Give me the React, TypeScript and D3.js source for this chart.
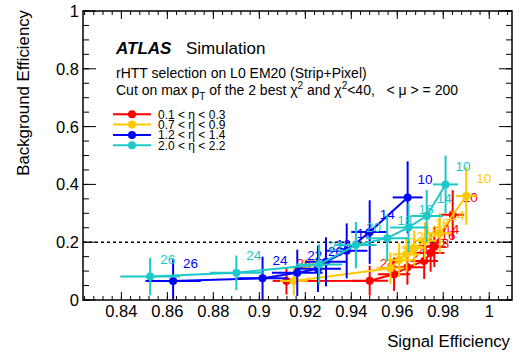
import * as d3 from "d3"

// thresholds (labels next to each point), same for every eta range
const thresholds = [26, 24, 22, 20, 18, 16, 14, 10]

const etaLabels = ["0.1 < η < 0.3", "0.7 < η < 0.9", "1.2 < η < 1.4", "2.0 < η < 2.2"]
const colors = ["#ff0000", "#ffc800", "#0000ff", "#1fc8c8"]

// 0.1 < eta < 0.3
const redSig = [0.9118, 0.948, 0.9586, 0.9644, 0.9717, 0.9745, 0.9761, 0.9841]
const redBkg = [0.066, 0.067, 0.089, 0.113, 0.135, 0.163, 0.184, 0.295]
const redSigErr = [0.006, 0.008, 0.007, 0.007, 0.006, 0.006, 0.005, 0.005]
const redBkgErr = [0.047, 0.052, 0.058, 0.06, 0.062, 0.065, 0.07, 0.085]

// 0.7 < eta < 0.9
const yelSig = [0.915, 0.957, 0.9608, 0.964, 0.9674, 0.972, 0.9785, 0.99]
const yelBkg = [0.066, 0.11, 0.138, 0.158, 0.179, 0.205, 0.231, 0.36]
const yelSigErr = [0.006, 0.006, 0.006, 0.006, 0.005, 0.005, 0.005, 0.0045]
const yelBkgErr = [0.05, 0.055, 0.058, 0.06, 0.062, 0.065, 0.07, 0.1]

// 1.2 < eta < 1.4
const bluSig = [0.8625, 0.9014, 0.9165, 0.9255, 0.929, 0.938, 0.948, 0.9645]
const bluBkg = [0.066, 0.075, 0.094, 0.108, 0.132, 0.17, 0.235, 0.355]
const bluSigErr = [0.012, 0.011, 0.011, 0.01, 0.009, 0.009, 0.008, 0.0065]
const bluBkgErr = [0.075, 0.075, 0.08, 0.08, 0.085, 0.095, 0.11, 0.125]

// 2.0 < eta < 2.2
const cyaSig = [0.8525, 0.89, 0.926, 0.942, 0.9556, 0.9649, 0.9728, 0.981]
const cyaBkg = [0.081, 0.094, 0.123, 0.19, 0.214, 0.251, 0.291, 0.4]
const cyaSigErr = [0.013, 0.0115, 0.01, 0.009, 0.009, 0.008, 0.007, 0.0055]
const cyaBkgErr = [0.065, 0.06, 0.07, 0.08, 0.08, 0.085, 0.09, 0.1]

const xTickValues = [0.84, 0.86, 0.88, 0.9, 0.92, 0.94, 0.96, 0.98, 1]
const yTickValues = [0, 0.2, 0.4, 0.6, 0.8, 1]
const cutValue = 0.2

const width = 522
const height = 354
const margin = { top: 11, right: 10, bottom: 54, left: 83 }
const font = "'Liberation Sans', Arial, Helvetica, sans-serif"

const series = [
  { sig: redSig, bkg: redBkg, ex: redSigErr, ey: redBkgErr },
  { sig: yelSig, bkg: yelBkg, ex: yelSigErr, ey: yelBkgErr },
  { sig: bluSig, bkg: bluBkg, ex: bluSigErr, ey: bluBkgErr },
  { sig: cyaSig, bkg: cyaBkg, ex: cyaSigErr, ey: cyaBkgErr },
]

export default function App() {
  const x = d3.scaleLinear().domain([0.8233, 1.0099]).range([margin.left, width - margin.right])
  const y = d3.scaleLinear().domain([0, 1]).range([height - margin.bottom, margin.top])
  const x0 = margin.left
  const x1 = width - margin.right
  const y0 = height - margin.bottom
  const y1 = margin.top

  const xMinor = d3.range(0.824, 1.0099, 0.004)
  const yMinor = d3.range(0, 1.0001, 0.05)

  const line = d3
    .line<number>()
    .x((d) => d)
    .y((d) => d)

  const fmt = (v) => String(+v.toFixed(2))

  return (
    <div style={{ position: "absolute", left: 0, top: 0 }}>
      <svg width={width} height={height} style={{ display: "block", background: "#fff" }} fontFamily={font}>
        <defs>
          <clipPath id="plot">
            <rect x={x0} y={y1} width={x1 - x0} height={y0 - y1} />
          </clipPath>
        </defs>

        {/* cut line */}
        <line x1={x0} x2={x1} y1={y(cutValue)} y2={y(cutValue)} stroke="#000" strokeWidth={1.5} strokeDasharray="3,3" />

        {/* graphs */}
        <g clipPath="url(#plot)">
          {series.map((s, i) => {
            const pts: [number, number][] = s.sig.map((v, j) => [x(v), y(s.bkg[j])])
            const path = d3.line()(pts)
            return (
              <g key={i}>
                {s.sig.map((v, j) => (
                  <g key={j} stroke={colors[i]} strokeWidth={2}>
                    <line x1={x(v - s.ex[j])} x2={x(v + s.ex[j])} y1={y(s.bkg[j])} y2={y(s.bkg[j])} />
                    <line x1={x(v)} x2={x(v)} y1={y(s.bkg[j] - s.ey[j])} y2={y(s.bkg[j] + s.ey[j])} />
                  </g>
                ))}
                <path d={path} fill="none" stroke={colors[i]} strokeWidth={2} />
                {pts.map((p, j) => (
                  <circle key={j} cx={p[0]} cy={p[1]} r={4} fill={colors[i]} />
                ))}
                {pts.map((p, j) => (
                  <text key={"t" + j} x={p[0] + 10} y={p[1] - 13} fill={colors[i]} fontSize={13.5}>
                    {thresholds[j]}
                  </text>
                ))}
              </g>
            )
          })}
        </g>

        {/* frame */}
        <rect x={x0} y={y1} width={x1 - x0} height={y0 - y1} fill="none" stroke="#000" strokeWidth={1.5} />

        {/* x ticks */}
        {xMinor.map((v, i) => (
          <g key={"xm" + i} stroke="#000" strokeWidth={1}>
            <line x1={x(v)} x2={x(v)} y1={y0} y2={y0 - 4} />
            <line x1={x(v)} x2={x(v)} y1={y1} y2={y1 + 4} />
          </g>
        ))}
        {xTickValues.map((v) => (
          <g key={"xt" + v}>
            <line x1={x(v)} x2={x(v)} y1={y0} y2={y0 - 8} stroke="#000" strokeWidth={1} />
            <line x1={x(v)} x2={x(v)} y1={y1} y2={y1 + 8} stroke="#000" strokeWidth={1} />
            <text x={x(v)} y={316.5} textAnchor="middle" fontSize={16.5}>
              {fmt(v)}
            </text>
          </g>
        ))}

        {/* y ticks */}
        {yMinor.map((v, i) => (
          <g key={"ym" + i} stroke="#000" strokeWidth={1}>
            <line x1={x0} x2={x0 + 6} y1={y(v)} y2={y(v)} />
            <line x1={x1} x2={x1 - 6} y1={y(v)} y2={y(v)} />
          </g>
        ))}
        {yTickValues.map((v) => (
          <g key={"yt" + v}>
            <line x1={x0} x2={x0 + 13} y1={y(v)} y2={y(v)} stroke="#000" strokeWidth={1} />
            <line x1={x1} x2={x1 - 13} y1={y(v)} y2={y(v)} stroke="#000" strokeWidth={1} />
            <text x={79} y={y(v)} dy="0.36em" textAnchor="end" fontSize={16.5}>
              {fmt(v)}
            </text>
          </g>
        ))}

        {/* axis titles */}
        <text x={510} y={347} textAnchor="end" fontSize={16.8}>
          Signal Efficiency
        </text>
        <text transform="translate(28.5,10) rotate(-90)" textAnchor="end" fontSize={16.8}>
          Background Efficiency
        </text>

        {/* labels */}
        <text x={116} y={54} fontSize={17} fontWeight="bold" fontStyle="italic">
          ATLAS
        </text>
        <text x={186} y={54} fontSize={17}>
          Simulation
        </text>
        <text x={116} y={78} fontSize={14}>
          rHTT selection on L0 EM20 (Strip+Pixel)
        </text>
        <text x={116} y={95} fontSize={14} style={{ whiteSpace: "pre" }}>
          Cut on max p
          <tspan fontSize={10} dy={5}>T</tspan>
          <tspan dy={-5}> of the 2 best χ</tspan>
          <tspan fontSize={10} dy={-6}>2</tspan>
          <tspan dy={6}> and χ</tspan>
          <tspan fontSize={10} dy={-6}>2</tspan>
          <tspan dy={6}>{"<40,   < μ > = 200"}</tspan>
        </text>

        {/* legend */}
        {etaLabels.map((lab, i) => {
          const ly = 114.3 + i * 10.3
          return (
            <g key={lab}>
              <line x1={113} x2={151} y1={ly} y2={ly} stroke={colors[i]} strokeWidth={2} />
              <circle cx={132} cy={ly} r={4} fill={colors[i]} />
              <text x={158} y={ly} dy="0.36em" fontSize={12}>
                {lab}
              </text>
            </g>
          )
        })}
      </svg>
    </div>
  )
}
